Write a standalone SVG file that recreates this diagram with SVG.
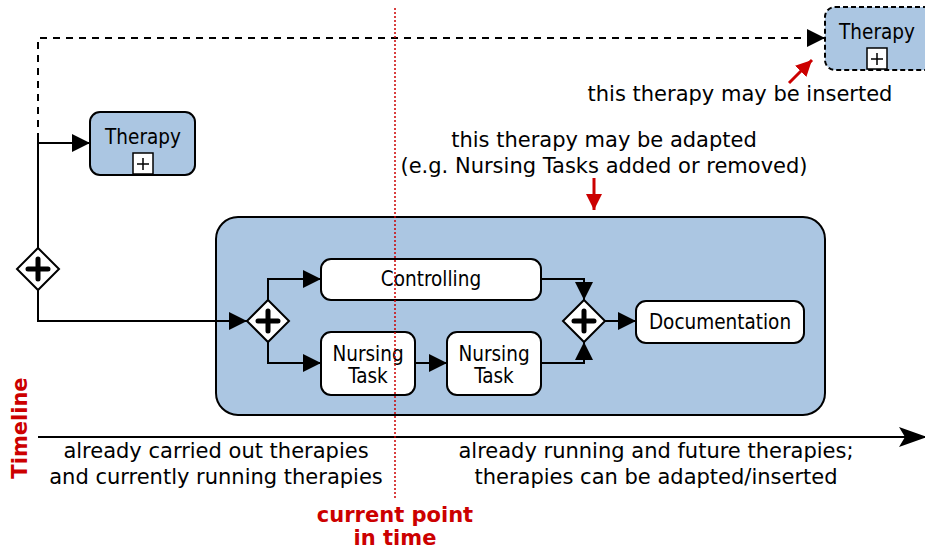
<svg xmlns="http://www.w3.org/2000/svg" width="925" height="550" viewBox="0 0 925 550">
<defs>
<marker id="ahb" viewBox="0 0 18 18" refX="18" refY="9" markerWidth="18" markerHeight="18" orient="auto" markerUnits="userSpaceOnUse">
<path d="M0,0 L18,9 L0,18 Z" fill="#000"/>
</marker>
<marker id="tl" viewBox="0 0 28 20" refX="26" refY="10" markerWidth="28" markerHeight="20" orient="auto" markerUnits="userSpaceOnUse">
<path d="M0,0 L28,10 L0,20 L6,10 Z" fill="#000"/>
</marker>
<marker id="red" viewBox="0 0 16 16" refX="16" refY="8" markerWidth="16" markerHeight="16" orient="auto" markerUnits="userSpaceOnUse">
<path d="M0,0 L16,8 L0,16 Z" fill="#cc0000"/>
</marker>
<g id="plusbox">
<rect x="-10" y="-11" width="20" height="21" fill="#fff" stroke="#000" stroke-width="1.5"/>
<path d="M-6,0 H6 M0,-6 V6" stroke="#000" stroke-width="1.5"/>
</g>
<g id="gw">
<path d="M0,-21 L21,0 L0,21 L-21,0 Z" fill="#fff" stroke="#000" stroke-width="2"/>
<path d="M-10,0 H10 M0,-10 V10" stroke="#000" stroke-width="5" stroke-linecap="round"/>
</g>
</defs>
<style>
.lbl{font-family:"DejaVu Sans Condensed","DejaVu Sans",sans-serif;font-stretch:condensed;font-size:20.5px;fill:#000;text-anchor:middle}
.txt{font-family:"DejaVu Sans",sans-serif;font-size:21px;fill:#000;text-anchor:middle}
.rtx{font-family:"DejaVu Sans",sans-serif;font-size:21px;font-weight:bold;fill:#cc0000;text-anchor:middle}
.blue{fill:#abc6e2;stroke:#000;stroke-width:2}
.task{fill:#fff;stroke:#000;stroke-width:2}
.con{fill:none;stroke:#000;stroke-width:2}
</style>

<g id="process">
<rect class="blue" x="216" y="217" width="609" height="198" rx="22"/>
</g>

<g id="connectors">
<path class="con" d="M38,140 V38 H825" stroke-dasharray="7,6" marker-end="url(#ahb)"/>
<path class="con" d="M38,143 H90" marker-end="url(#ahb)"/>
<path class="con" d="M38,140 V248"/>
<path class="con" d="M38,290 V321 H247" marker-end="url(#ahb)"/>
<path class="con" d="M268,300 V279 H321" marker-end="url(#ahb)"/>
<path class="con" d="M268,342 V363 H321" marker-end="url(#ahb)"/>
<path class="con" d="M415,363 H447" marker-end="url(#ahb)"/>
<path class="con" d="M541,279 H584 V300" marker-end="url(#ahb)"/>
<path class="con" d="M541,363 H584 V342" marker-end="url(#ahb)"/>
<path class="con" d="M605,321 H636" marker-end="url(#ahb)"/>
<path class="con" d="M38,437 H925" marker-end="url(#tl)"/>
<path d="M594,178 V210" stroke="#cc0000" stroke-width="3" fill="none" marker-end="url(#red)"/>
<path d="M789,83 L812,60" stroke="#cc0000" stroke-width="3" fill="none" marker-end="url(#red)"/>
</g>

<g id="therapy1">
<rect class="blue" x="90" y="112" width="105" height="63" rx="10"/>
<text class="lbl" x="143" y="144">Therapy</text>
<use href="#plusbox" x="143" y="164"/>
</g>

<g id="therapy2">
<rect class="blue" x="825" y="7" width="110" height="63" rx="10" stroke-dasharray="5,3"/>
<text class="lbl" x="877" y="39">Therapy</text>
<use href="#plusbox" x="877" y="59"/>
</g>

<g id="gw-split-outer"><use href="#gw" x="38" y="269"/></g>
<g id="gw-split"><use href="#gw" x="268" y="321"/></g>
<g id="gw-join"><use href="#gw" x="584" y="321"/></g>

<g id="controlling">
<rect class="task" x="321" y="259" width="220" height="41" rx="10"/>
<text class="lbl" x="431" y="286">Controlling</text>
</g>
<g id="nursing1">
<rect class="task" x="321" y="332" width="94" height="63" rx="10"/>
<text class="lbl" x="368" y="361">Nursing</text>
<text class="lbl" x="368" y="383">Task</text>
</g>
<g id="nursing2">
<rect class="task" x="447" y="332" width="94" height="63" rx="10"/>
<text class="lbl" x="494" y="361">Nursing</text>
<text class="lbl" x="494" y="383">Task</text>
</g>
<g id="documentation">
<rect class="task" x="636" y="301" width="168" height="42" rx="10"/>
<text class="lbl" x="720" y="329">Documentation</text>
</g>

<line x1="395" y1="8" x2="395" y2="498" stroke="#cc0000" stroke-width="1.5" stroke-dasharray="2,2"/>

<text class="txt" x="740" y="101">this therapy may be inserted</text>
<text class="txt" x="604" y="147">this therapy may be adapted</text>
<text class="txt" x="604" y="173">(e.g. Nursing Tasks added or removed)</text>
<text class="txt" x="216" y="458">already carried out therapies</text>
<text class="txt" x="216" y="484">and currently running therapies</text>
<text class="txt" x="656" y="458">already running and future therapies;</text>
<text class="txt" x="656" y="484">therapies can be adapted/inserted</text>
<text class="rtx" x="395" y="522">current point</text>
<text class="rtx" x="395" y="545">in time</text>
<text class="rtx" transform="translate(27,428) rotate(-90)">Timeline</text>
</svg>
